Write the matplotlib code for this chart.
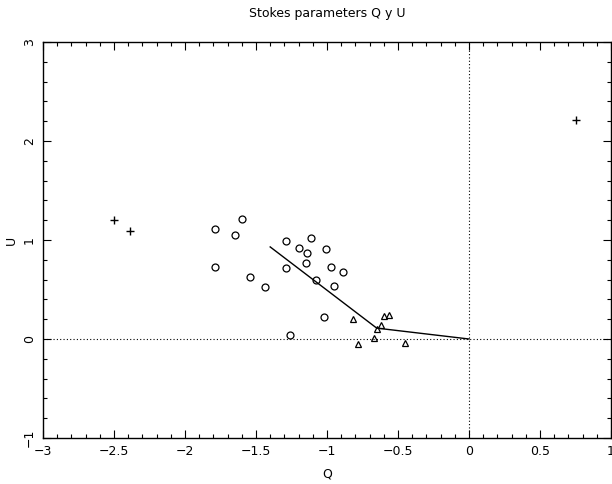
import matplotlib
matplotlib.use("Agg")
import matplotlib.pyplot as plt
from matplotlib.ticker import MultipleLocator, FuncFormatter

# Data
plus_q = [-2.50, -2.39, 0.75]
plus_u = [1.20, 1.09, 2.21]

circ_q = [-1.79, -1.60, -1.65, -1.79, -1.54, -1.44, -1.29, -1.20, -1.11, -1.14,
          -1.01, -1.29, -1.15, -0.97, -0.89, -1.08, -0.95, -1.02, -1.26]
circ_u = [1.11, 1.21, 1.05, 0.73, 0.63, 0.53, 0.99, 0.92, 1.02, 0.87,
          0.91, 0.72, 0.77, 0.73, 0.68, 0.60, 0.54, 0.22, 0.04]

tri_q = [-0.82, -0.60, -0.56, -0.62, -0.65, -0.67, -0.78, -0.45]
tri_u = [0.20, 0.23, 0.24, 0.14, 0.10, 0.01, -0.05, -0.04]

line_q = [-1.40, -0.65, 0.0]
line_u = [0.93, 0.11, 0.0]

fig = plt.figure(figsize=(6.12, 4.84), dpi=100)
ax = fig.add_axes([43/612, 1-438/484, (611-43)/612, (438-42)/484])

ax.axhline(0, color='black', lw=0.8, ls=(0, (1, 2)))
ax.axvline(0, color='black', lw=0.8, ls=(0, (1, 2)))

ax.plot(line_q, line_u, color='black', lw=1.0)
ax.plot(plus_q, plus_u, ls='none', marker='+', ms=6, mew=1.0, color='black')
ax.plot(circ_q, circ_u, ls='none', marker='o', ms=5, mew=0.9, mfc='none', mec='black')
ax.plot(tri_q, tri_u, ls='none', marker='^', ms=5, mew=0.9, mfc='none', mec='black')

fmt = FuncFormatter(lambda v, p: ('%g' % v).replace('-', '\u2212'))
ax.set_xlim(-3, 1)
ax.set_ylim(-1, 3)
ax.xaxis.set_major_locator(MultipleLocator(0.5))
ax.xaxis.set_minor_locator(MultipleLocator(0.1))
ax.yaxis.set_major_locator(MultipleLocator(1))
ax.yaxis.set_minor_locator(MultipleLocator(0.2))
ax.xaxis.set_major_formatter(fmt)
ax.yaxis.set_major_formatter(fmt)
ax.tick_params(which='both', direction='in', top=True, right=True, labelsize=9, width=0.8)
ax.tick_params(which='major', length=6)
ax.tick_params(which='minor', length=3)
ax.tick_params(axis='y', which='major', pad=5)
ax.tick_params(axis='x', which='major', pad=5)
for lab in ax.get_yticklabels():
    lab.set_rotation(90)
    lab.set_va('center')
for s in ax.spines.values():
    s.set_linewidth(1.0)

ax.set_xlabel('Q', fontsize=9, labelpad=7)
fig.text(11/612, 1-240/484, 'U', ha='center', va='center', rotation=90, fontsize=9)
fig.text((43+611)/2/612, 1-13/484, 'Stokes parameters Q y U', ha='center', va='center', fontsize=9)

fig.savefig('out.png', dpi=100)
